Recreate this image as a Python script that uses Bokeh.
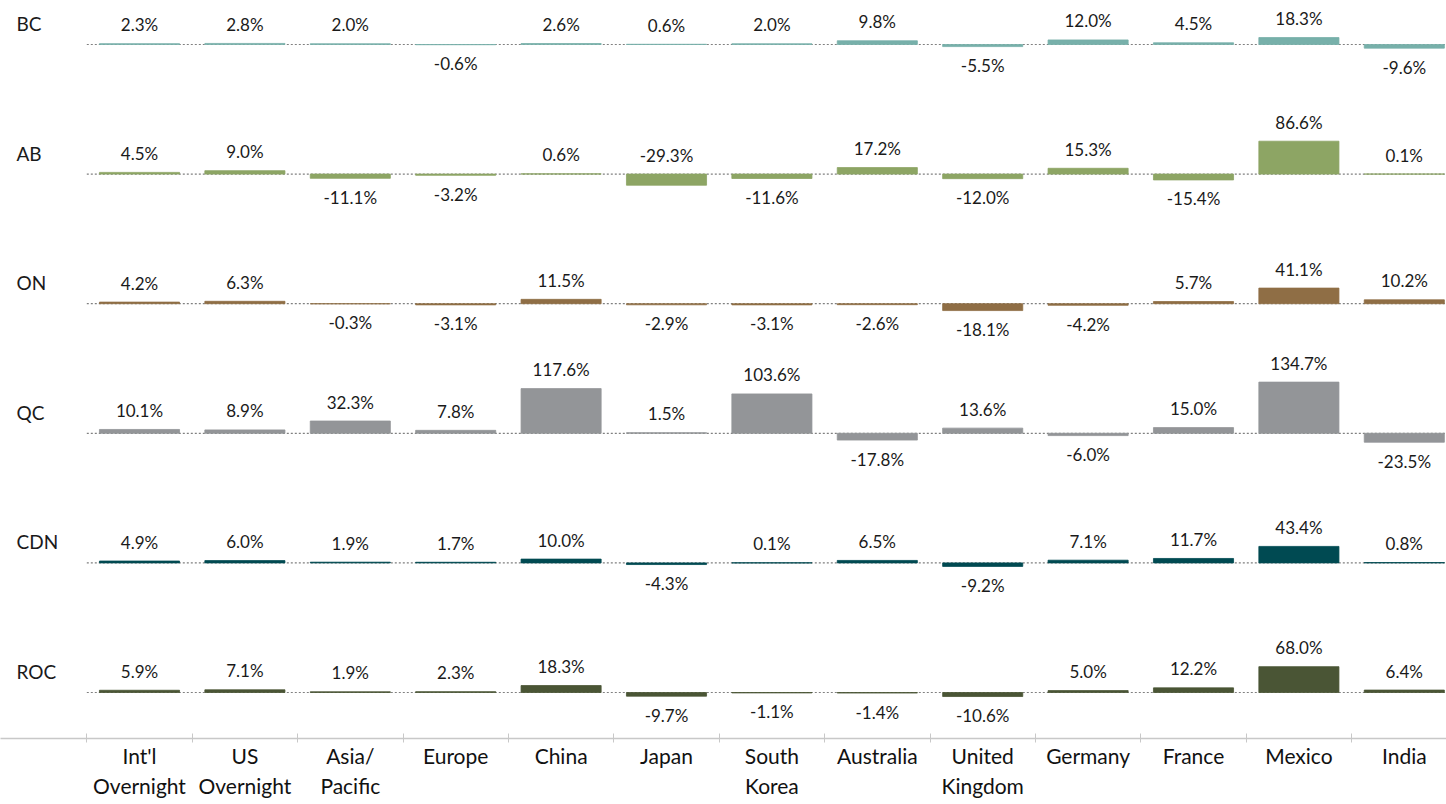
from bokeh.plotting import figure
from bokeh.models import Range1d, FixedTicker
from bokeh.core.properties import value
from bokeh.embed import file_html
from bokeh.resources import INLINE

# ---------------- data ----------------
categories = ["Int'l Overnight", "US Overnight", "Asia/ Pacific", "Europe", "China", "Japan",
              "South Korea", "Australia", "United Kingdom", "Germany", "France", "Mexico", "India"]
tick_labels = ["Int'l\nOvernight", "US\nOvernight", "Asia/\nPacific", "Europe", "China", "Japan",
               "South\nKorea", "Australia", "United\nKingdom", "Germany", "France", "Mexico", "India"]
regions = ["BC", "AB", "ON", "QC", "CDN", "ROC"]

bc = [2.3, 2.8, 2.0, -0.6, 2.6, 0.6, 2.0, 9.8, -5.5, 12.0, 4.5, 18.3, -9.6]
ab = [4.5, 9.0, -11.1, -3.2, 0.6, -29.3, -11.6, 17.2, -12.0, 15.3, -15.4, 86.6, 0.1]
on = [4.2, 6.3, -0.3, -3.1, 11.5, -2.9, -3.1, -2.6, -18.1, -4.2, 5.7, 41.1, 10.2]
qc = [10.1, 8.9, 32.3, 7.8, 117.6, 1.5, 103.6, -17.8, 13.6, -6.0, 15.0, 134.7, -23.5]
cdn = [4.9, 6.0, 1.9, 1.7, 10.0, -4.3, 0.1, 6.5, -9.2, 7.1, 11.7, 43.4, 0.8]
roc = [5.9, 7.1, 1.9, 2.3, 18.3, -9.7, -1.1, -1.4, -10.6, 5.0, 12.2, 68.0, 6.4]
series = [bc, ab, on, qc, cdn, roc]

colors = ["#77b0aa", "#8da564", "#8f6e45", "#939598", "#004a52", "#4a5535"]
label_above = {("AB", "Japan")}

# ---------------- layout constants ----------------
FW, FH = 1446, 738      # frame size (axis below adds the rest)
px_per_pct = 0.38
px_per_cat = 105.4
first_center_px = 139.0
row_base_px0 = 44.0
row_gap_px = 129.6

x_start = -first_center_px / px_per_cat
x_end = x_start + FW / px_per_cat
y_end = 0.0
y_start = -FH / px_per_pct

p = figure(frame_width=FW, frame_height=FH, output_backend="svg", toolbar_location=None,
           x_range=Range1d(x_start, x_end), y_range=Range1d(y_start, y_end),
           y_axis_location=None, min_border_left=0, min_border_right=0,
           min_border_top=0, min_border_bottom=0)
p.outline_line_color = None
p.xgrid.visible = False
p.ygrid.visible = False
p.background_fill_color = "white"
p.border_fill_color = "white"

n = len(categories)
xs = list(range(n))

for k, (reg, vals, col) in enumerate(zip(regions, series, colors)):
    base = -(row_base_px0 + row_gap_px * k) / px_per_pct
    # dotted baseline
    p.segment(x0=[-0.5], y0=[base], x1=[x_end], y1=[base], line_color="#808080",
              line_width=1.2, line_dash="2 2")
    tops = [base + max(v, 0) for v in vals]
    bottoms = [base + min(v, 0) for v in vals]
    p.vbar(x=xs, width=0.76, top=tops, bottom=bottoms, fill_color=col, line_color=col,
           line_width=0.8)
    # value labels
    pos_x, pos_y, pos_t = [], [], []
    neg_x, neg_y, neg_t = [], [], []
    for i, v in enumerate(vals):
        txt = f"{v:.1f}%"
        if v >= 0 or (reg, categories[i]) in label_above:
            pos_x.append(i)
            pos_y.append(base + max(v, 0))
            pos_t.append(txt)
        else:
            neg_x.append(i)
            neg_y.append(base + v)
            neg_t.append(txt)
    p.text(x=pos_x, y=pos_y, text=pos_t, y_offset=-19, text_align="center",
           text_baseline="middle", text_font=value("Lato"), text_font_size="17px",
           text_color="#1a1a1a")
    p.text(x=neg_x, y=neg_y, text=neg_t, y_offset=19, text_align="center",
           text_baseline="middle", text_font=value("Lato"), text_font_size="17px",
           text_color="#1a1a1a")
    # row label
    p.text(x=[x_start + 16 / px_per_cat], y=[base], text=[reg], y_offset=-21,
           text_align="left", text_baseline="middle", text_font=value("Lato"),
           text_font_size="19px", text_color="#1a1a1a")

# x axis
ax = p.xaxis[0]
ax.ticker = FixedTicker(ticks=xs, minor_ticks=[i - 0.5 for i in range(n + 1)])
ax.major_label_overrides = {i: t for i, t in enumerate(tick_labels)}
ax.major_tick_in = 0
ax.major_tick_out = 0
ax.minor_tick_in = 5
ax.minor_tick_out = 4
ax.minor_tick_line_color = "#c8c8c8"
ax.axis_line_color = "#c8c8c8"
ax.axis_line_width = 1.5
ax.major_label_text_font = "Lato"
ax.major_label_text_font_size = "21px"
ax.major_label_text_color = "#111111"
ax.major_label_standoff = 0
ax.major_label_text_line_height = 1.2

open("out.html", "w").write(file_html(p, INLINE))
